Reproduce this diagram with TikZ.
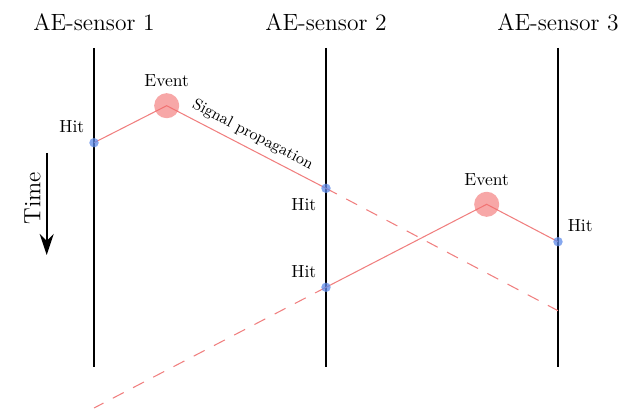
\documentclass[tikz,border=0pt]{standalone}
\usepackage{xcolor}
\usepackage{tikz}
\usetikzlibrary{arrows.meta, backgrounds}
\definecolor{EventRed}{HTML}{F26D6D}
\definecolor{HitBlue}{HTML}{5E8BEA}
\definecolor{SignalRed}{HTML}{F07F7F}

\begin{document}
\begin{tikzpicture}[x=0.57pt, y=-0.57pt,
  sensor/.style={font=\fontsize{13.4pt}{16pt}\selectfont, anchor=base},
  hit/.style={circle, fill=HitBlue, fill opacity=0.75, text opacity=1,
              inner sep=0pt, minimum size=5.4pt, label distance=-1.8pt},
  event/.style={circle, fill=EventRed, fill opacity=0.6, text opacity=1,
                inner sep=0pt, minimum size=14.3pt, label distance=-2.5pt},
  wire/.style={line width=1pt},
  signal/.style={SignalRed, line width=0.6pt},
  ghost/.style={signal, dash pattern=on 7pt off 6pt}
]
  \useasboundingbox (0,0) rectangle (637,409);

  % Sensors
  \node[sensor] (S1) at (94,31) {AE-sensor 1};
  \node[sensor] (S2) at (326,31) {AE-sensor 2};
  \node[sensor] (S3) at (558,31) {AE-sensor 3};
  \coordinate (S1top) at (94,48);   \coordinate (S1bot) at (94,367);
  \coordinate (S2top) at (326,48);  \coordinate (S2bot) at (326,367);
  \coordinate (S3top) at (558,48);  \coordinate (S3bot) at (558,367);

  % Events and hits
  \node[event, label={above:Event}] (E1) at (166.7,105.7) {};
  \node[event, label={above:Event}] (E2) at (486.7,204.3) {};
  \node[hit, label={above left:Hit}] (H1) at (94,142.7) {};
  \node[hit, label={below left:Hit}] (H2a) at (326,188.3) {};
  \node[hit, label={above left:Hit}] (H2b) at (326,287.3) {};
  \node[hit, label={above right:Hit}] (H3) at (558,241.7) {};
  \coordinate (D1) at (558,310.7);
  \coordinate (D2) at (94,408);

  % Time axis
  \coordinate (T0) at (46.7,153);
  \coordinate (T1) at (46.7,255);
  \draw[-{Stealth[length=12pt, width=8pt]}, line width=1.1pt] (T0) -- (T1);
  \node[rotate=90, anchor=south, font=\fontsize{13.4pt}{16pt}\selectfont] (time) at (46.7,198) {Time};

  \begin{scope}[on background layer]
    \draw[wire] (S1top) -- (S1bot);
    \draw[wire] (S2top) -- (S2bot);
    \draw[wire] (S3top) -- (S3bot);

    % Signal paths
    \draw[signal] (H1.center) -- (E1.center)
      -- node[sloped, above, pos=0.5, font=\small, text=black] (prop) {Signal propagation}
      (H2a.center);
    \draw[ghost] (H2a.center) -- (D1);
    \draw[signal] (H3.center) -- (E2.center) -- (H2b.center);
    \draw[ghost] (H2b.center) -- (D2);
  \end{scope}
\end{tikzpicture}
\end{document}
